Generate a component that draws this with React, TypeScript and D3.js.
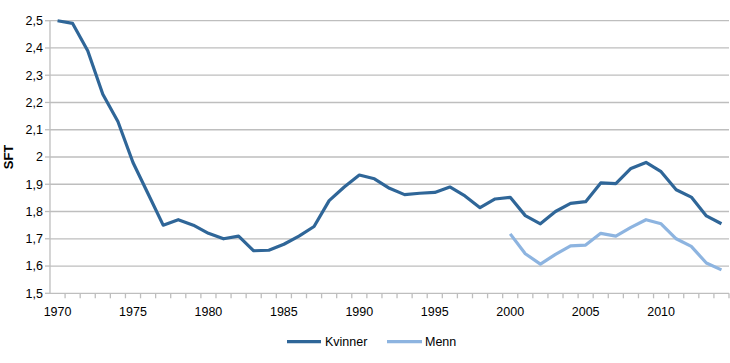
import { useMemo } from "react";
import * as d3 from "d3";

const WIDTH = 730;
const HEIGHT = 363;
const MARGIN = { top: 20.7, right: 1, bottom: 70, left: 50 };

const years = d3.range(1970, 2015);

// Samlet fruktbarhetstall (SFT)
const kvinner = [
  2.5, 2.49, 2.39, 2.23, 2.13, 1.98, 1.865, 1.75, 1.77, 1.75,
  1.72, 1.70, 1.71, 1.656, 1.658, 1.68, 1.71, 1.745, 1.84, 1.89,
  1.934, 1.92, 1.885, 1.862, 1.867, 1.87, 1.89, 1.857, 1.814, 1.846,
  1.852, 1.785, 1.755, 1.80, 1.83, 1.836, 1.905, 1.902, 1.958, 1.98,
  1.946, 1.88, 1.853, 1.784, 1.755,
];
const menn = [
  1.718, 1.645, 1.607, 1.643, 1.674, 1.677, 1.72, 1.71, 1.742, 1.77,
  1.755, 1.70, 1.672, 1.611, 1.586,
];
const mennStart = 2000;

const yTicks = [1.5, 1.6, 1.7, 1.8, 1.9, 2.0, 2.1, 2.2, 2.3, 2.4, 2.5];

const DARK = "#2F6698";
const LIGHT = "#8DB4E0";
const GRID = "#BEBEBE";
const FONT = "'Liberation Sans', Arial, sans-serif";

const App = () => {
  const boundsWidth = 729 - MARGIN.left;
  const boundsHeight = 293.3 - MARGIN.top;

  const xScale = useMemo(
    () => d3.scaleBand<number>().domain(years).range([0, boundsWidth]),
    [boundsWidth]
  );
  const yScale = useMemo(
    () => d3.scaleLinear().domain([1.5, 2.5]).range([boundsHeight, 0]),
    [boundsHeight]
  );

  const cx = (yr: number) => (xScale(yr) ?? 0) + xScale.bandwidth() / 2;

  const line = d3
    .line<{ year: number; value: number }>()
    .x((d) => cx(d.year))
    .y((d) => yScale(d.value));

  const kvinnerData = kvinner.map((v, i) => ({ year: years[i], value: v }));
  const mennData = menn.map((v, i) => ({ year: mennStart + i, value: v }));

  const fmt = (v: number) =>
    Number.isInteger(Math.round(v * 10) / 10) && Math.abs(v - Math.round(v)) < 1e-9
      ? String(Math.round(v))
      : v.toFixed(1).replace(".", ",");

  return (
    <svg
      width={WIDTH}
      height={HEIGHT}
      style={{ position: "absolute", left: 0, top: 0, background: "#fff" }}
      fontFamily={FONT}
    >
      <g transform={`translate(${MARGIN.left},${MARGIN.top})`}>
        {yTicks.map((t) => (
          <g key={t}>
            {t > 1.5 && (
              <line
                x1={0}
                x2={boundsWidth}
                y1={yScale(t)}
                y2={yScale(t)}
                stroke={GRID}
                strokeWidth={1.3}
              />
            )}
            <line x1={-5} x2={0} y1={yScale(t)} y2={yScale(t)} stroke={GRID} strokeWidth={1.3} />
            <text
              x={-7}
              y={yScale(t)}
              dy="0.35em"
              textAnchor="end"
              fontSize={12.5}
              fill="#000"
            >
              {fmt(t)}
            </text>
          </g>
        ))}
        <line x1={0} x2={0} y1={0} y2={boundsHeight} stroke={GRID} strokeWidth={1.3} />
        <line
          x1={0}
          x2={boundsWidth}
          y1={boundsHeight}
          y2={boundsHeight}
          stroke={GRID}
          strokeWidth={1.3}
        />
        {years.map((yr) => (
          <line
            key={yr}
            x1={(xScale(yr) ?? 0) + xScale.bandwidth()}
            x2={(xScale(yr) ?? 0) + xScale.bandwidth()}
            y1={boundsHeight}
            y2={boundsHeight + 5}
            stroke={GRID}
            strokeWidth={1.3}
          />
        ))}
        {years
          .filter((yr) => yr % 5 === 0)
          .map((yr) => (
            <text
              key={yr}
              x={cx(yr)}
              y={boundsHeight + 23}
              textAnchor="middle"
              fontSize={12.5}
              fill="#000"
            >
              {yr}
            </text>
          ))}
        <path d={line(kvinnerData) ?? ""} fill="none" stroke={DARK} strokeWidth={3.2} strokeLinejoin="round" />
        <path d={line(mennData) ?? ""} fill="none" stroke={LIGHT} strokeWidth={3.2} strokeLinejoin="round" />
      </g>
      <text
        transform={`translate(13,${MARGIN.top + boundsHeight / 2}) rotate(-90)`}
        textAnchor="middle"
        fontSize={13}
        fontWeight="bold"
        fill="#000"
      >
        SFT
      </text>
      <g transform="translate(287,341.7)">
        <line x1={0} x2={34} y1={0} y2={0} stroke={DARK} strokeWidth={3.2} />
        <text x={38} y={0} dy="0.35em" fontSize={12.5} fill="#000">
          Kvinner
        </text>
        <line x1={100} x2={135} y1={0} y2={0} stroke={LIGHT} strokeWidth={3.2} />
        <text x={138} y={0} dy="0.35em" fontSize={12.5} fill="#000">
          Menn
        </text>
      </g>
    </svg>
  );
};

export default App;
